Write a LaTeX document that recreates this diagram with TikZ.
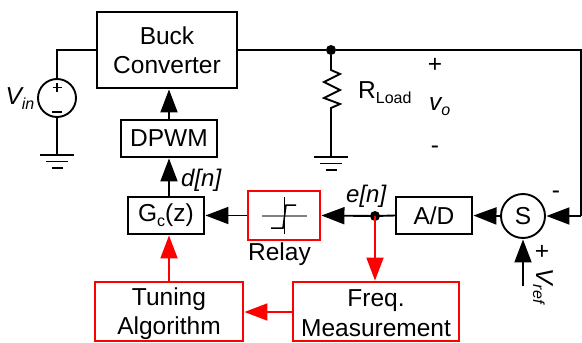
\documentclass[tikz,border=0pt]{standalone}
\usepackage{fontspec}
\setmainfont{Liberation Sans}
\usetikzlibrary{arrows.meta,calc}
\newcommand{\subtxt}[2][-5pt]{\raisebox{#1}{\fontsize{16}{18}\selectfont #2}}
\tikzset{
  wire/.style={line width=1.9pt,black},
  redwire/.style={line width=1.9pt,red},
  arr/.style={wire,-{Triangle[length=23pt,width=17pt]},shorten >=0.5pt},
  redarr/.style={redwire,-{Triangle[length=23pt,width=17pt]},shorten >=0.5pt},
  blk/.style={draw=black,line width=1.9pt,inner sep=0pt,align=center,font=\fontsize{24.5}{29.5}\selectfont},
  rbx/.style={draw=red,line width=1.9pt,inner sep=0pt,align=center,font=\fontsize{24.5}{29.5}\selectfont},
  lbl/.style={inner sep=0pt,font=\fontsize{24.5}{28}\selectfont},
  dot/.style={circle,fill=black,inner sep=0pt,minimum size=10pt},
}
\newcommand{\gnd}[1]{%
  \draw[wire] ($(#1)+(-17,0)$) -- ($(#1)+(17,0)$);
  \draw[wire] ($(#1)+(-11,6.5)$) -- ($(#1)+(11,6.5)$);
  \draw[wire] ($(#1)+(-5.5,13)$) -- ($(#1)+(5.5,13)$);
}
\begin{document}
\begin{tikzpicture}[x=1pt,y=-1pt]
\useasboundingbox (0,0) rectangle (582,343);
\node[blk,minimum width=140pt,minimum height=76pt] (buck) at (167,50) {Buck\\Converter};
\node[blk,minimum width=96pt,minimum height=37pt] (dpwm) at (169,138.5) {DPWM};
\node[blk,minimum width=76pt,minimum height=37pt] (gc) at (166,215.5) {G\subtxt{c}(z)};
\node[rbx,minimum width=72pt,minimum height=49pt] (relay) at (284,215.5) {};
\node[blk,minimum width=76pt,minimum height=37pt] (ad) at (434,215.5) {A/D};
\node[rbx,minimum width=148pt,minimum height=59pt] (tuning) at (169,311.5) {\rule{0pt}{22pt}Tuning\\Algorithm};
\node[rbx,minimum width=166pt,minimum height=59pt] (freq) at (376,311.5) {\rule{0pt}{20pt}Freq.\\Measurement};
\node[draw=black,line width=1.9pt,circle,minimum size=44pt,inner sep=0pt,font=\fontsize{24.5}{28}\selectfont] (sum) at (523,216) {S};
\node[draw=black,line width=1.9pt,circle,minimum size=38pt,inner sep=0pt] (vin) at (57,98) {};
\node[dot] (top) at (331,50) {};
\node[dot] (en) at (375,216) {};
\coordinate (vinup) at (57,50);
\coordinate (g1) at (57,155);
\coordinate (g2) at (331,157);
\coordinate (cornerA) at (581,50);
\coordinate (cornerB) at (581,216);
\coordinate (vrefend) at (523,286);
% power path
\draw[wire] (buck.west |- vinup) -- (vinup) -- (vin.north);
\draw[wire] (vin.south) -- (g1);
\gnd{g1}
\draw[wire] (buck.east |- top) -- (top) -- (cornerA) -- (cornerB);
\draw[arr] (cornerB) -- (sum.east);
\draw[wire] (top) -- (331,70) -- (340,74) -- (324,82) -- (340,90) -- (324,98) -- (340,104) -- (331,108) -- (g2);
\gnd{g2}
% polarity in source
\draw[line width=1.7pt] (57,83) -- (57,92) (52.5,87.5) -- (61.5,87.5);
\draw[line width=1.7pt] (52,112) -- (62,112);
% control path
\draw[arr] (dpwm.north) -- (buck.south -| dpwm.north);
\draw[arr] (gc.north -| dpwm.south) -- (dpwm.south);
\draw[arr] (relay.west) -- (gc.east);
\draw[arr] (en.center) -- (relay.east);
\draw[wire] (en.center) -- (ad.west);
\draw[arr] (sum.west) -- (ad.east);
\draw[arr] (vrefend) -- (sum.south);
\draw[redarr] (en.center) -- (en.center |- freq.north);
\draw[redarr] (freq.west |- 0,312) -- (tuning.east |- 0,312);
\draw[redarr] (tuning.north) -- (gc.south -| tuning.north);
% relay symbol
\draw[line width=1.3pt,gray] (262,216) -- (307,216);
\draw[line width=1pt,black] (284.5,197) -- (284.5,234);
\draw[line width=1.5pt,black] (271,228) -- (283,228) -- (286,205) -- (296,205);
% labels
\node[lbl,font=\fontsize{24.5}{28}\selectfont\itshape] (vinl) at (20,99) {V\subtxt{in}};
\node[lbl,anchor=base west] (rl) at (358,98) {R\subtxt{Load}};
\node[lbl] (plus) at (435,65) {+};
\node[lbl,anchor=base west,font=\fontsize{24.5}{28}\selectfont\itshape] (vo) at (429,110) {v\subtxt{o}};
\node[lbl] (minus) at (435,150) {-};
\node[lbl,anchor=base west,font=\fontsize{24}{26}\selectfont\itshape] (dn) at (181,186) {d[n]};
\node[lbl,anchor=base west,font=\fontsize{24}{26}\selectfont\itshape] (e) at (346,202) {e[n]};
\node[lbl] (rlbl) at (279.5,254) {Relay};
\node[lbl] (m1) at (556,195) {-};
\node[lbl] (p1) at (542,252) {+};
\node[lbl,anchor=center,rotate=-90,font=\fontsize{24.5}{28}\selectfont\itshape] (vref) at (543,286) {V\subtxt[-3pt]{ref}};
\end{tikzpicture}
\end{document}
